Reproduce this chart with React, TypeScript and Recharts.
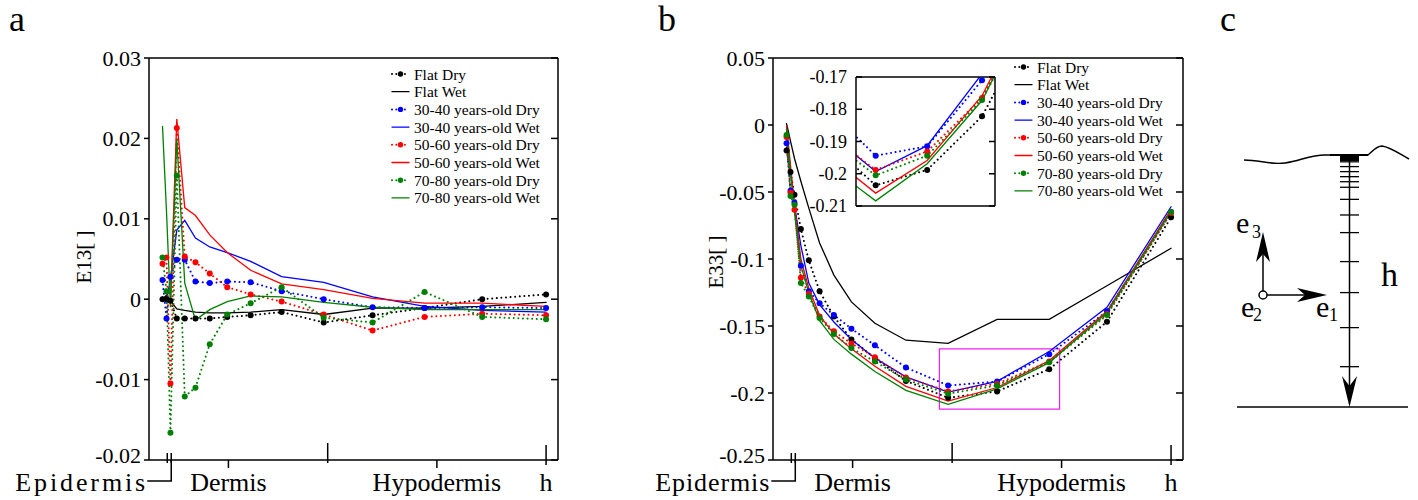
import React from 'react';
import { LineChart, Line, XAxis, YAxis, Legend, ReferenceArea } from 'recharts';

const FONT = '"Liberation Serif", "DejaVu Serif", "Times New Roman", Times, serif';

// depth positions (fraction of h)
const depth = [0.034, 0.044, 0.054, 0.07, 0.09, 0.117, 0.153, 0.197, 0.256, 0.334, 0.44, 0.563, 0.694, 0.839, 1.0];

const seriesNames = [
  'Flat Dry', 'Flat Wet',
  '30-40 years-old Dry', '30-40 years-old Wet',
  '50-60 years-old Dry', '50-60 years-old Wet',
  '70-80 years-old Dry', '70-80 years-old Wet',
];
const seriesColors = ['#000000', '#000000', '#0000ff', '#0000ff', '#ff0000', '#ff0000', '#008000', '#008000'];
const seriesDry = [true, false, true, false, true, false, true, false];

// Panel a: E13
const flatDryA = [0, 0, -0.0002, -0.0024, -0.0024, -0.0024, -0.0024, -0.0022, -0.002, -0.0016, -0.0029, -0.002, -0.0011, 0.0, 0.0006];
const flatWetA = [0, 0.0005, -0.0002, -0.0012, -0.0014, -0.0016, -0.0017, -0.0017, -0.0016, -0.0013, -0.0019, -0.0011, -0.0011, -0.0009, -0.0004];
const blueDryA = [0.0024, -0.0024, 0.0028, 0.0049, 0.0049, 0.0022, 0.002, 0.0022, 0.0021, 0.001, 0.0, -0.001, -0.0011, -0.001, -0.0011];
const blueWetA = [0.0003, -0.0003, 0.0025, 0.0086, 0.0098, 0.0076, 0.0065, 0.0058, 0.0047, 0.0028, 0.0021, 0.0003, -0.0009, -0.0014, -0.0016];
const redDryA = [0.0044, 0.0052, -0.0105, 0.0213, 0.0053, 0.0046, 0.0032, 0.0015, 0.0006, -0.0003, -0.0019, -0.0039, -0.0022, -0.0018, -0.002];
const redWetA = [0.0, 0.0, -0.0005, 0.0224, 0.0114, 0.0104, 0.008, 0.0058, 0.0036, 0.0019, 0.0012, 0.0001, -0.0005, -0.0005, -0.0009];
const greenDryA = [0.0052, 0.001, -0.0166, 0.0154, -0.0121, -0.011, -0.0056, -0.0019, -0.0005, 0.0015, -0.0023, -0.0029, 0.0009, -0.0022, -0.0025];
const greenWetA = [0.0215, 0.011, -0.001, 0.0199, 0.002, -0.0026, -0.0013, -0.0003, 0.0004, 0.0003, -0.0004, -0.001, -0.0013, -0.0013, -0.0013];

// Panel b: E33
const flatDryB = [-0.019, -0.035, -0.052, -0.0777, -0.101, -0.124, -0.143, -0.16, -0.174, -0.191, -0.2036, -0.1988, -0.1822, -0.1468, -0.0689];
const flatWetB = [0.001, -0.012, -0.025, -0.042, -0.062, -0.088, -0.112, -0.132, -0.148, -0.1606, -0.163, -0.145, -0.145, -0.12, -0.092];
const blueDryB = [-0.0136, -0.049, -0.058, -0.105, -0.124, -0.133, -0.1418, -0.152, -0.1644, -0.181, -0.1944, -0.1915, -0.171, -0.139, -0.065];
const blueWetB = [-0.003, -0.035, -0.06, -0.09, -0.118, -0.134, -0.147, -0.16, -0.174, -0.188, -0.1993, -0.1913, -0.169, -0.136, -0.061];
const redDryB = [-0.009, -0.0505, -0.0633, -0.114, -0.126, -0.143, -0.154, -0.163, -0.1734, -0.1885, -0.1988, -0.1931, -0.1765, -0.141, -0.0656];
const redWetB = [-0.001, -0.03, -0.06, -0.1, -0.122, -0.142, -0.156, -0.167, -0.18, -0.195, -0.206, -0.1959, -0.1758, -0.139, -0.063];
const greenDryB = [-0.0075, -0.053, -0.0596, -0.118, -0.128, -0.144, -0.156, -0.1665, -0.1765, -0.19, -0.2005, -0.1944, -0.1771, -0.1418, -0.065];
const greenWetB = [-0.003, -0.035, -0.065, -0.105, -0.125, -0.146, -0.16, -0.171, -0.184, -0.198, -0.2084, -0.1969, -0.1773, -0.14, -0.064];

// axes
const yTicksA = [-0.02, -0.01, 0, 0.01, 0.02, 0.03];
const yTicksB = [-0.25, -0.2, -0.15, -0.1, -0.05, 0, 0.05];
const insetTicks = [-0.21, -0.2, -0.19, -0.18, -0.17];
const xMarks = [0.046, 0.056, 0.2, 0.45, 0.725, 1.0];
const xMarkKinds = ['ep', 'epLabel', 'dermis', 'bound', 'hypo', 'h'];
const xMarkLabels = ['', 'Epidermis', 'Dermis', '', 'Hypodermis', 'h'];

// schematic (panel c) layer fractions along h
const layerFractions = [0.027, 0.046, 0.066, 0.086, 0.106, 0.128, 0.176, 0.238, 0.308, 0.423, 0.546, 0.685, 0.84];

const mkRows = (arrs: number[][]) =>
  depth.map((d, i) => {
    const r: any = { d };
    arrs.forEach((a, k) => (r['s' + k] = a[i]));
    return r;
  });
const rowsA = mkRows([flatDryA, flatWetA, blueDryA, blueWetA, redDryA, redWetA, greenDryA, greenWetA]);
const rowsB = mkRows([flatDryB, flatWetB, blueDryB, blueWetB, redDryB, redWetB, greenDryB, greenWetB]);

const AX = { stroke: '#000', strokeWidth: 1.5 };
const fmt = (v: number) => String(v);
const NoTick = () => <g />;

function YTickLabel(props: any) {
  const { x, y, payload, fontSize, lowest } = props;
  const dy = payload.value === lowest ? -5 : 0;
  return (
    <text x={x} y={y + dy} textAnchor="end" dominantBaseline="central" style={{ fontFamily: FONT, fontSize }} fill="#000">
      {fmt(payload.value)}
    </text>
  );
}

function XTick(props: any) {
  const { x, y, payload, epLen } = props;
  const idx = xMarks.indexOf(payload.value);
  const kind = xMarkKinds[idx];
  const label = xMarkLabels[idx];
  const st = { stroke: '#000', strokeWidth: 1.5 };
  const txt = { style: { fontFamily: FONT, fontSize: 26 }, fill: '#000' };
  const by = y + 31;
  if (kind === 'ep') return <line x1={x} x2={x} y1={y - 7} y2={y + 3} {...st} />;
  if (kind === 'epLabel')
    return (
      <g>
        <line x1={x} x2={x} y1={y - 7} y2={y + 3} {...st} />
        <polyline points={`${x},${y} ${x},${y + 21} ${x - 24},${y + 21}`} fill="none" {...st} />
        <text x={x - 26 - epLen} y={by} textAnchor="start" textLength={epLen} lengthAdjust="spacing" {...txt}>{label}</text>
      </g>
    );
  if (kind === 'bound') return <line x1={x} x2={x} y1={y - 17} y2={y + 3} {...st} />;
  if (kind === 'h')
    return (
      <g>
        <line x1={x} x2={x} y1={y - 15} y2={y + 5} {...st} />
        <text x={x} y={by} textAnchor="middle" {...txt}>{label}</text>
      </g>
    );
  return (
    <g>
      <line x1={x} x2={x} y1={y} y2={y + 8} {...st} />
      <text x={x} y={by} textAnchor="middle" {...txt}>{label}</text>
    </g>
  );
}

const renderLines = () =>
  seriesNames.map((name, k) => (
    <Line
      key={k}
      dataKey={'s' + k}
      name={name}
      type="linear"
      stroke={seriesColors[k]}
      strokeWidth={seriesDry[k] ? 2 : 1.3}
      strokeDasharray={seriesDry[k] ? '0.01 4.6' : undefined}
      strokeLinecap="round"
      dot={seriesDry[k] ? { r: 3, fill: seriesColors[k], stroke: 'none', strokeWidth: 0 } : false}
      activeDot={false}
      isAnimationActive={false}
    />
  ));

const LegendBox = () => (
  <svg width={200} height={150} style={{ overflow: 'visible' }}>
    {seriesNames.map((n, i) => {
      const cy = 9 + i * 17.7;
      return (
        <g key={i}>
          <line x1={0} x2={17} y1={cy} y2={cy} stroke={seriesColors[i]} strokeWidth={seriesDry[i] ? 2 : 1.3}
            strokeDasharray={seriesDry[i] ? '0.01 4.3' : undefined} strokeLinecap="round" />
          {seriesDry[i] && <circle cx={8.5} cy={cy} r={2.7} fill={seriesColors[i]} />}
          <text x={22} y={cy + 5.5} style={{ fontFamily: FONT, fontSize: 15.5 }} fill="#000">{n}</text>
        </g>
      );
    })}
  </svg>
);

function MainChart(props: any) {
  const { rows, left, yDomain, yTicks, margin, legendLeft, legendTop, epLen, children } = props;
  return (
    <div style={{ position: 'absolute', left, top: 0 }}>
      <LineChart width={600} height={500} data={rows} margin={margin}>
        <XAxis dataKey="d" type="number" domain={[0, 1.03]} allowDataOverflow ticks={xMarks} interval={0}
          tick={(p: any) => <XTick {...p} epLen={epLen} />} tickLine={false} tickSize={0} tickMargin={0} height={40} axisLine={AX} />
        <XAxis xAxisId="top" orientation="top" type="number" domain={[0, 1.03]} allowDataOverflow
          tick={NoTick} tickLine={false} height={1} axisLine={AX} />
        <YAxis type="number" domain={yDomain} allowDataOverflow ticks={yTicks} interval={0} tickSize={5} tickMargin={3}
          width={1} tick={(p: any) => <YTickLabel {...p} fontSize={22} lowest={yDomain[0]} />} axisLine={AX} tickLine={AX} />
        <YAxis yAxisId="right" orientation="right" mirror type="number" domain={yDomain} allowDataOverflow ticks={yTicks}
          interval={0} tickSize={7} width={1} tick={NoTick} axisLine={AX} tickLine={AX} />
        {children}
        {renderLines()}
        <Legend layout="vertical" align="center" verticalAlign="middle" content={LegendBox}
          wrapperStyle={{ left: legendLeft, top: legendTop, width: 200, height: 150 }} />
      </LineChart>
    </div>
  );
}

function PanelC() {
  const top = 155;
  const bottom = 407;
  const vx = 1349.5;
  const ly = (f: number) => top + f * (bottom - top);
  const st = { stroke: '#000', strokeWidth: 1.5, fill: 'none' };
  const t = (fs: number) => ({ style: { fontFamily: FONT, fontSize: fs }, fill: '#000' });
  return (
    <g>
      <path d="M1244,160 C1260,160 1270,165 1285,163 C1300,161 1310,155 1325,155 L1368,155 C1372,152 1376,146 1382,146 C1390,147 1400,154 1409,159" {...st} />
      <line x1={1330} x2={1368} y1={155} y2={155} stroke="#000" strokeWidth={2} />
      <rect x={1340} y={155} width={19} height={6} fill="#000" />
      <line x1={vx} x2={vx} y1={155} y2={392} stroke="#000" strokeWidth={1.5} />
      {layerFractions.map((f, i) => (
        <line key={i} x1={1340} x2={1359} y1={ly(f)} y2={ly(f)} stroke="#000" strokeWidth={1.3} />
      ))}
      <polygon points={`${vx},407 ${vx - 7.5},376 ${vx},386 ${vx + 7.5},376`} fill="#000" />
      <line x1={1237} x2={1408} y1={407} y2={407} stroke="#000" strokeWidth={1.5} />
      <circle cx={1263} cy={295} r={4} {...st} />
      <line x1={1263} x2={1263} y1={291} y2={250} stroke="#000" strokeWidth={1.5} />
      <polygon points="1263,232 1256,262 1263,254 1270,262" fill="#000" />
      <line x1={1267} x2={1310} y1={295} y2={295} stroke="#000" strokeWidth={1.5} />
      <polygon points="1327,295 1297,288 1305,295 1297,302" fill="#000" />
      <text x={1236} y={233} {...t(30)}>e</text>
      <text x={1252} y={238} {...t(18)}>3</text>
      <text x={1241} y={317} {...t(30)}>e</text>
      <text x={1253} y={321} {...t(18)}>2</text>
      <text x={1316} y={317} {...t(30)}>e</text>
      <text x={1329} y={321} {...t(18)}>1</text>
      <text x={1381} y={286} {...t(34)}>h</text>
    </g>
  );
}

export default function App() {
  const t = (fs: number) => ({ style: { fontFamily: FONT, fontSize: fs }, fill: '#000' });
  return (
    <div style={{ position: 'absolute', left: 0, top: 0, width: 1418, height: 500, background: '#fff', overflow: 'hidden', fontFamily: FONT }}>
      <MainChart rows={rowsA} left={0} yDomain={[-0.02, 0.03]} yTicks={yTicksA} epLen={130}
        margin={{ top: 57, right: 42, left: 148, bottom: 0 }} legendLeft={392} legendTop={65} />
      <MainChart rows={rowsB} left={620} yDomain={[-0.25, 0.05]} yTicks={yTicksB} epLen={114}
        margin={{ top: 57, right: 37, left: 152, bottom: 0 }} legendLeft={395} legendTop={58}>
        <ReferenceArea x1={0.418} x2={0.72} y1={-0.212} y2={-0.167} fill="none" stroke="#ee22ee" strokeWidth={1.2} />
      </MainChart>
      <div style={{ position: 'absolute', left: 800, top: 60 }}>
        <LineChart width={200} height={160} data={rowsB} margin={{ top: 16, left: 55, right: 5, bottom: 13 }}>
          <XAxis dataKey="d" type="number" domain={[0.393, 0.725]} allowDataOverflow tick={NoTick} tickLine={false} height={1} axisLine={AX} />
          <XAxis xAxisId="top" orientation="top" type="number" domain={[0.393, 0.725]} allowDataOverflow tick={NoTick} tickLine={false} height={1} axisLine={AX} />
          <YAxis type="number" domain={[-0.21, -0.17]} allowDataOverflow ticks={insetTicks} interval={0} width={1} tickLine={false}
            tickMargin={3} tick={(p: any) => <YTickLabel {...p} fontSize={18} />} axisLine={AX} />
          <YAxis yAxisId="in" mirror type="number" domain={[-0.21, -0.17]} allowDataOverflow ticks={insetTicks} interval={0}
            width={1} tickSize={6} tick={NoTick} axisLine={false} tickLine={AX} />
          <YAxis yAxisId="right" orientation="right" mirror type="number" domain={[-0.21, -0.17]} allowDataOverflow ticks={insetTicks}
            interval={0} width={1} tickSize={6} tick={NoTick} axisLine={AX} tickLine={AX} />
          {renderLines()}
        </LineChart>
      </div>
      <svg width={1418} height={500} style={{ position: 'absolute', left: 0, top: 0, pointerEvents: 'none' }}>
        <text x={9} y={31} {...t(36)}>a</text>
        <text x={658} y={31} {...t(36)}>b</text>
        <text x={1220} y={31} {...t(36)}>c</text>
        <text x={84} y={257} transform="rotate(-90 84 257)" textAnchor="middle" dominantBaseline="central" {...t(21)}>E13[ ]</text>
        <text x={716} y={262} transform="rotate(-90 716 262)" textAnchor="middle" dominantBaseline="central" {...t(21)}>E33[ ]</text>
        <PanelC />
      </svg>
    </div>
  );
}
